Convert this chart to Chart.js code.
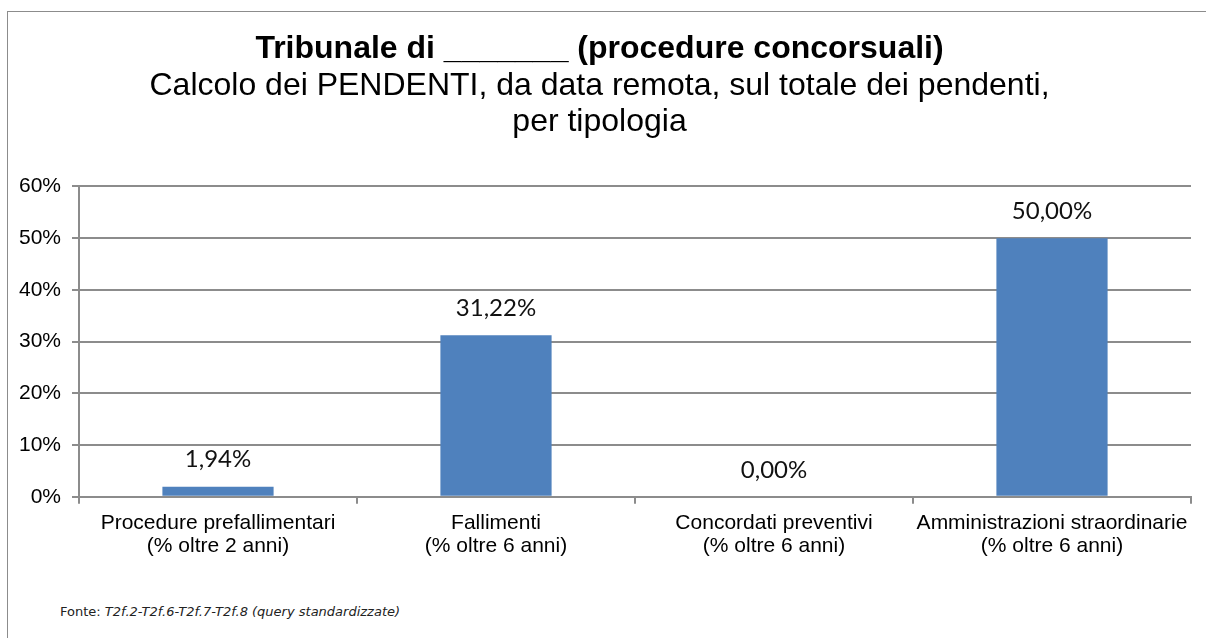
<!DOCTYPE html>
<html>
<head>
<meta charset="utf-8">
<script src="https://cdn.jsdelivr.net/npm/chart.js@4/dist/chart.umd.min.js"></script>
<style>
  html, body { margin: 0; padding: 0; background: #fff; overflow: hidden; }
  #frame {
    position: absolute; left: 7px; top: 11px;
    width: 1240px; height: 660px;
    border-left: 1px solid #8c8c8c; border-top: 1px solid #8c8c8c;
  }
  #wrap { position: absolute; left: 0; top: 0; width: 1208px; height: 560px; }
  #fonte {
    position: absolute; left: 52px; top: 592px;
    font-family: "DejaVu Sans", Verdana, sans-serif; font-size: 13px; color: #222;
  }
</style>
</head>
<body>
<div id="frame">
  <div id="wrap"><canvas id="pendentiChart"></canvas></div>
  <div id="fonte">Fonte: <i>T2f.2-T2f.6-T2f.7-T2f.8 (query standardizzate)</i></div>
</div>
<script>
// categorie e valori (% pendenti da data remota)
const categories = [
    ["Procedure prefallimentari", "(% oltre 2 anni)"],
    ["Fallimenti", "(% oltre 6 anni)"],
    ["Concordati preventivi", "(% oltre 6 anni)"],
    ["Amministrazioni straordinarie", "(% oltre 6 anni)"]
];
const percentuali = [1.94, 31.22, 0.00, 50.00];
const yTicks = [0, 10, 20, 30, 40, 50, 60];

const titleText = "Tribunale di _______ (procedure concorsuali)";
const subtitleText = ["Calcolo dei PENDENTI, da data remota, sul totale dei pendenti,", "per tipologia"];

function formatPct(v) {
    return v.toFixed(2).replace(".", ",") + "%";
}

// etichette sopra le barre
const barLabels = {
    id: "barLabels",
    afterDatasetsDraw(chart) {
        let ctx = chart.ctx;
        let meta = chart.getDatasetMeta(0);
        ctx.save();
        ctx.font = "24px Lato, 'Open Sans', sans-serif";
        ctx.fillStyle = "#111";
        ctx.textAlign = "center";
        ctx.textBaseline = "middle";
        meta.data.forEach((bar, i) => {
            ctx.fillText(formatPct(percentuali[i]), bar.x, bar.y - 27);
        });
        ctx.restore();
    }
};

let ctx = document.getElementById("pendentiChart").getContext("2d");
new Chart(ctx, {
    type: "bar",
    data: {
        labels: categories,
        datasets: [{
            data: percentuali,
            backgroundColor: "#4f81bd",
            borderWidth: 0,
            barPercentage: 0.4,
            categoryPercentage: 1.0
        }]
    },
    options: {
        responsive: true,
        maintainAspectRatio: false,
        animation: false,
        layout: { padding: { left: 0, right: 25, top: 18, bottom: 6 } },
        plugins: {
            legend: { display: false },
            tooltip: { enabled: false },
            title: {
                display: true,
                text: titleText,
                color: "#000",
                font: { family: "'Liberation Sans', Arial, sans-serif", size: 32, weight: "bold", lineHeight: 1.2 },
                padding: { top: 0, bottom: 0 }
            },
            subtitle: {
                display: true,
                text: subtitleText,
                color: "#000",
                font: { family: "'Liberation Sans', Arial, sans-serif", size: 32, weight: "normal", lineHeight: 1.125 },
                padding: { top: 0, bottom: 46 }
            }
        },
        scales: {
            x: {
                grid: {
                    offset: true,
                    drawOnChartArea: false,
                    drawTicks: true,
                    tickLength: 7,
                    color: "#8c8c8c",
                    lineWidth: 2
                },
                border: { color: "#8c8c8c", width: 2 },
                ticks: {
                    color: "#000",
                    maxRotation: 0,
                    autoSkip: false,
                    padding: 8,
                    font: { family: "'Liberation Sans', Arial, sans-serif", size: 21, lineHeight: 1.1 }
                }
            },
            y: {
                min: 0,
                max: 60,
                afterFit(scale) { scale.width = 71; },
                afterBuildTicks(scale) { scale.ticks = yTicks.map(v => ({ value: v })); },
                grid: {
                    color: "#8c8c8c",
                    lineWidth: 2,
                    drawTicks: true,
                    tickLength: 7
                },
                border: { color: "#8c8c8c", width: 2 },
                ticks: {
                    color: "#000",
                    padding: 11,
                    font: { family: "'Liberation Sans', Arial, sans-serif", size: 21 },
                    callback: v => v + "%"
                }
            }
        }
    },
    plugins: [barLabels]
});
</script>
</body>
</html>
